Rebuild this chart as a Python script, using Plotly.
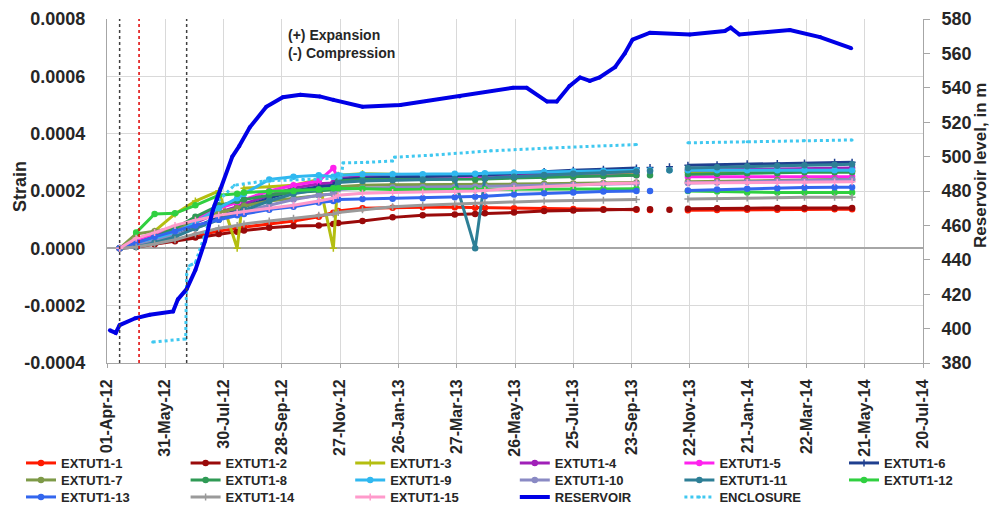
import plotly.graph_objects as go

# ---------------- data ----------------
N = None
strain_dates = ['2012-04-14', '2012-05-01', '2012-05-20', '2012-06-10', '2012-07-01', '2012-07-25',
                '2012-08-13', '2012-08-20', '2012-09-15', '2012-10-10', '2012-11-05', '2012-11-20',
                '2012-11-25', '2012-12-20', '2013-01-20', '2013-02-20', '2013-03-25', '2013-04-15',
                '2013-04-25', '2013-05-25', '2013-06-25', '2013-07-25', '2013-08-25', '2013-09-28',
                '2013-10-05', '2013-10-12', '2013-10-22', '2013-11-01', '2013-11-10', '2013-11-20',
                '2013-12-20', '2014-01-20', '2014-02-20', '2014-03-20', '2014-04-20', '2014-05-08']

# strain values in microstrain (x 1e-6)
EXTUT1_1 = [0, 8, 18, 30, 45, 60, 70, 74, 85, 95, 110, 124, 130, 140, 142, 143, 143, 142, 142, 140, 138, 137, 136, 135, N, 134, N, N, N, 133, 134, 135, 135, 136, 136, 136]
EXTUT1_2 = [0, 5, 14, 25, 38, 50, 58, 62, 72, 78, 80, 85, 88, 95, 108, 115, 118, 120, 122, 125, 130, 132, 135, 136, N, 136, N, 135, N, 138, 140, 140, 141, 141, 141, 141]
EXTUT1_3 = [0, 12, 60, 120, 165, 200, 0, 210, 215, 220, 240, 0, 255, 260, 258, 255, 252, 250, 250, 252, 255, 258, 262, 265, N, N, N, N, N, 265, 266, 268, 268, 270, 270, 270]
EXTUT1_4 = [0, 15, 35, 60, 90, 125, 145, 155, 185, 210, 225, 228, 245, 250, 252, 252, 253, 254, 255, 258, 260, 262, 265, 268, N, N, N, N, N, 272, 273, 275, 276, 277, 278, 280]
EXTUT1_5 = [0, 25, 45, 70, 100, 140, 160, 170, 200, 220, 235, 280, 240, 245, 245, 245, 245, 245, 246, 248, 250, 250, 252, 255, N, N, N, N, N, 250, 250, 250, 250, 250, 250, 250]
EXTUT1_6 = [0, 10, 25, 45, 75, 110, 135, 145, 175, 200, 215, 220, 240, 245, 248, 250, 252, 254, 256, 262, 268, 272, 276, 280, N, 282, N, 285, N, 290, 292, 295, 296, 298, 300, 300]
EXTUT1_7 = [0, 50, 60, 70, 95, 125, 140, 148, 165, 175, 185, 190, 215, 220, 222, 222, 222, 222, 222, 224, 225, 226, 228, 230, N, N, N, N, N, 232, 234, 236, 238, 240, 240, 240]
EXTUT1_8 = [0, 20, 40, 70, 110, 150, 165, 170, 185, 195, 200, 205, 235, 240, 240, 240, 240, 240, 242, 245, 248, 250, 252, 255, N, 255, N, N, N, 258, 260, 262, 262, 265, 265, 265]
EXTUT1_9 = [0, 10, 30, 55, 90, 140, 175, 190, 240, 250, 255, 250, 255, 258, 258, 258, 260, 260, 262, 264, 266, 268, 270, 272, N, 272, N, 272, N, 272, 272, 272, 272, 272, 272, 272]
EXTUT1_10 = [0, 10, 25, 45, 70, 100, 120, 128, 150, 170, 185, 190, 205, 210, 212, 213, 214, 215, 216, 218, 220, 222, 224, 226, N, N, N, N, N, 228, 230, 232, 234, 236, 238, 240]
EXTUT1_11 = [0, 5, 20, 40, 70, 100, 125, 135, 165, 190, 205, 210, 230, 235, 238, 240, 242, 0, 245, 250, 256, 260, 264, 268, N, 270, N, 272, N, 280, 283, 286, 288, 290, 292, 293]
EXTUT1_12 = [N, 55, 120, 122, 150, 185, 190, 195, 198, 200, 205, 210, 210, 208, 205, 205, 205, 205, 206, 206, 205, 206, 207, 208, N, N, N, N, N, 200, 198, 195, 195, 195, 195, 195]
EXTUT1_13 = [0, 20, 40, 60, 80, 100, 115, 120, 135, 145, 160, 165, 170, 172, 173, 175, 178, 180, 182, 188, 192, 195, 198, 200, N, 200, N, N, N, 202, 205, 208, 210, 212, 213, 213]
EXTUT1_14 = [0, 5, 15, 30, 50, 70, 80, 85, 95, 105, 115, 120, 125, 135, 145, 150, 155, 158, 160, 162, 165, 167, 168, 170, N, N, N, N, N, 172, 174, 176, 177, 178, 178, 178]
EXTUT1_15 = [0, 35, 55, 80, 98, 115, 125, 128, 140, 150, 165, 175, 185, 192, 195, 196, 198, 200, 202, 210, 215, 220, 225, 228, N, N, N, N, N, 228, 229, 230, 230, 230, 231, 232]

reservoir_dates = ['2012-04-04', '2012-04-10', '2012-04-14', '2012-04-30', '2012-05-15', '2012-06-08',
                   '2012-06-13', '2012-06-22', '2012-07-01', '2012-07-11', '2012-07-19', '2012-07-23',
                   '2012-08-08', '2012-08-15', '2012-08-26', '2012-09-12', '2012-09-29', '2012-10-17',
                   '2012-11-06', '2012-11-20', '2012-12-20', '2013-01-28', '2013-03-30', '2013-05-24',
                   '2013-06-07', '2013-06-28', '2013-07-08', '2013-07-21', '2013-08-01', '2013-08-11',
                   '2013-08-21', '2013-09-06', '2013-09-16', '2013-09-24', '2013-10-12', '2013-11-22',
                   '2013-12-28', '2014-01-03', '2014-01-12', '2014-03-05', '2014-04-05', '2014-05-07']
reservoir_level = [399, 397.5, 402, 406, 408, 410, 417, 423, 434, 451, 469, 475,
                   500, 506, 517, 529, 534.5, 536, 535, 533, 529, 530, 535, 540,
                   540, 532, 532, 541, 546, 544, 546, 552, 560, 568, 572, 571,
                   573, 575, 571, 573.6, 569.5, 563]

enclosure_dates = ['2012-05-18', '2012-06-21', '2012-06-22', '2012-06-25', '2012-07-01', '2012-07-10',
                   '2012-07-20', '2012-08-10', '2012-09-10', '2012-10-20', '2012-11-28', '2012-11-30',
                   '2012-12-25', '2013-01-20', '2013-01-22', '2013-03-01', '2013-05-01', '2013-07-01',
                   '2013-09-28', '2013-10-20', '2013-11-20', '2014-01-20', '2014-03-20', '2014-05-08']
enclosure = [-327, -316, -90, -60, -50, 40, 150, 220, 235, 240, 245, 298,
             300, 305, 318, 325, 340, 350, 362, N, 368, 372, 376, 378]

event_dates = ['2012-04-14', '2012-05-04', '2012-06-22']
event_colors = ['#404040', '#E00000', '#404040']

x_tick_dates = ['2012-04-01', '2012-05-31', '2012-07-30', '2012-09-28', '2012-11-27', '2013-01-26',
                '2013-03-27', '2013-05-26', '2013-07-25', '2013-09-23', '2013-11-22', '2014-01-21',
                '2014-03-22', '2014-05-21', '2014-07-20']
y_tick_vals = [-0.0004, -0.0002, 0.0, 0.0002, 0.0004, 0.0006, 0.0008]
y_tick_text = ['-0.0004', '-0.0002', '0.0000', '0.0002', '0.0004', '0.0006', '0.0008']

strain_series = [
    ('EXTUT1-1', EXTUT1_1, '#FF1A00', 'circle'),
    ('EXTUT1-2', EXTUT1_2, '#9A0A0A', 'circle'),
    ('EXTUT1-3', EXTUT1_3, '#B4BE10', 'cross-thin'),
    ('EXTUT1-4', EXTUT1_4, '#A020B8', 'circle'),
    ('EXTUT1-5', EXTUT1_5, '#FF22EE', 'circle'),
    ('EXTUT1-6', EXTUT1_6, '#1F3F8F', 'cross-thin'),
    ('EXTUT1-7', EXTUT1_7, '#7E9A48', 'circle'),
    ('EXTUT1-8', EXTUT1_8, '#2F9A55', 'circle'),
    ('EXTUT1-9', EXTUT1_9, '#30B8F0', 'circle'),
    ('EXTUT1-10', EXTUT1_10, '#8A8AC4', 'circle'),
    ('EXTUT1-11', EXTUT1_11, '#2E7F96', 'circle'),
    ('EXTUT1-12', EXTUT1_12, '#30D040', 'circle'),
    ('EXTUT1-13', EXTUT1_13, '#3366EE', 'circle'),
    ('EXTUT1-14', EXTUT1_14, '#9A9A9A', 'cross-thin'),
    ('EXTUT1-15', EXTUT1_15, '#FF9ACB', 'cross-thin'),
]

FONT = 'Liberation Sans, Arial, sans-serif'
TXT = '#262626'

fig = go.Figure()

def legend_key(i):
    return 'legend' if i == 0 else 'legend%d' % (i + 1)

idx = 0
for name, vals, color, sym in strain_series:
    yv = [v * 1e-6 if v is not None else None for v in vals]
    fig.add_trace(go.Scatter(
        x=strain_dates, y=yv, name=name, mode='lines+markers',
        line=dict(color=color, width=3),
        marker=dict(symbol=sym, size=5, color=color, line=dict(color=color, width=1.5)),
        legend=legend_key(idx), yaxis='y'))
    idx += 1

fig.add_trace(go.Scatter(
    x=reservoir_dates, y=reservoir_level, name='RESERVOIR', mode='lines+markers',
    line=dict(color='#0000E6', width=4),
    marker=dict(symbol='circle', size=4, color='#0000E6'),
    legend=legend_key(idx), yaxis='y2'))
idx += 1

fig.add_trace(go.Scatter(
    x=enclosure_dates, y=[v * 1e-6 if v is not None else None for v in enclosure],
    name='ENCLOSURE', mode='lines+markers',
    line=dict(color='#40C8F0', width=3, dash='dot'),
    marker=dict(symbol='circle', size=3, color='#40C8F0'),
    legend=legend_key(idx), yaxis='y'))
idx += 1

# vertical event lines
for d, c in zip(event_dates, event_colors):
    fig.add_shape(type='line', xref='x', yref='paper', x0=d, x1=d, y0=0, y1=1,
                  line=dict(color=c, width=1.5, dash='dot'))

# plot geometry (px); the page margin is removed so the figure fills the window
W, H = 990, 506
L, R, T, B = 107, 923, 19, 363
PW, PH = R - L, B - T

def px_x(px):
    return (px - L) / PW

def px_y(py):
    return (B - py) / PH

legend_font = dict(family=FONT, size=13, color=TXT, weight='bold')
layout_legends = {}
for i in range(idx):
    col, row = i % 6, i // 6
    layout_legends[legend_key(i)] = dict(
        x=px_x(21 + col * 164.6), y=px_y(463 + row * 17), xanchor='left', yanchor='middle',
        orientation='v', font=legend_font, bgcolor='rgba(0,0,0,0)',
        itemwidth=30, tracegroupgap=0)

fig.update_layout(
    width=W, height=H,
    margin=dict(l=L, r=W - R, t=T, b=H - B, autoexpand=False),
    plot_bgcolor='white', paper_bgcolor='white',
    showlegend=True,
    font=dict(family=FONT, color=TXT),
    xaxis=dict(type='date', range=['2012-04-01', '2014-07-20'],
               tickvals=x_tick_dates, tickformat='%d-%b-%y', tickangle=-90,
               showgrid=True, gridcolor='#D9D9D9', gridwidth=1,
               showline=True, linecolor='#A6A6A6', linewidth=1,
               ticks='outside', ticklen=4, tickcolor='#A6A6A6',
               tickfont=dict(family=FONT, size=16, color=TXT, weight='bold'),
               ticklabelstandoff=5, zeroline=False, automargin=False),
    yaxis=dict(range=[-0.0004, 0.0008], tickvals=y_tick_vals, ticktext=y_tick_text,
               showgrid=True, gridcolor='#D9D9D9', gridwidth=1,
               zeroline=True, zerolinecolor='#A6A6A6', zerolinewidth=1.5,
               showline=True, linecolor='#A6A6A6', linewidth=1,
               ticks='', tickfont=dict(family=FONT, size=18, color=TXT, weight='bold'),
               ticklabelstandoff=17, automargin=False),
    yaxis2=dict(range=[380, 580], dtick=20, overlaying='y', side='right',
                showgrid=False, zeroline=False,
                showline=True, linecolor='#A6A6A6', linewidth=1,
                ticks='outside', ticklen=6, tickcolor='#A6A6A6',
                tickfont=dict(family=FONT, size=18, color=TXT, weight='bold'),
                ticklabelstandoff=8, automargin=False),
    **layout_legends,
)

fig.add_annotation(text='Strain', xref='paper', yref='paper',
                   x=px_x(20), y=px_y(187), xanchor='center', yanchor='middle',
                   textangle=-90, showarrow=False,
                   font=dict(family=FONT, size=18, color=TXT, weight='bold'))
fig.add_annotation(text='Reservoir level, in m', xref='paper', yref='paper',
                   x=px_x(980), y=px_y(166), xanchor='center', yanchor='middle',
                   textangle=-90, showarrow=False,
                   font=dict(family=FONT, size=17, color=TXT, weight='bold'))
fig.add_annotation(text='(+) Expansion<br>(-) Compression', xref='paper', yref='paper',
                   x=px_x(286), y=px_y(25), xanchor='left', yanchor='top',
                   align='left', showarrow=False,
                   font=dict(family=FONT, size=14, color=TXT, weight='bold'))

fig.write_html('out.html', config={'displayModeBar': False},
               post_script="document.body.style.margin='0';document.body.style.overflow='hidden';")
